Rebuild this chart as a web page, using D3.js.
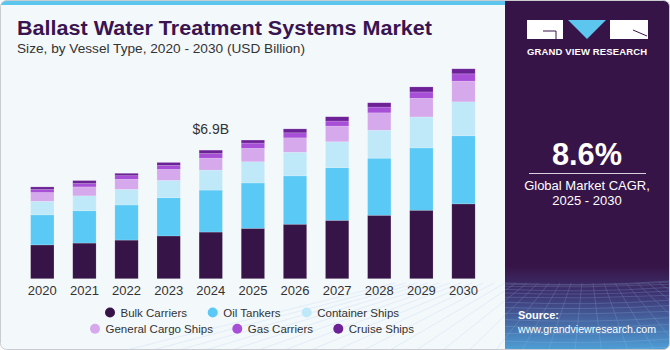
<!DOCTYPE html>
<html>
<head>
<meta charset="utf-8">
<script src="https://cdn.jsdelivr.net/npm/d3@7"></script>
<style>
  html, body { margin: 0; padding: 0; background: #ffffff; }
  svg { display: block; font-family: "Liberation Sans", Arial, sans-serif; }
</style>
</head>
<body>
<svg id="chart" width="670" height="350"></svg>
<script>
// ---- data ----
const years = ["2020","2021","2022","2023","2024","2025","2026","2027","2028","2029","2030"];
const seriesNames = ["Bulk Carriers","Oil Tankers","Container Ships","General Cargo Ships","Gas Carriers","Cruise Ships"];
const bulkCarriers      = [1.81, 1.91, 2.07, 2.29, 2.50, 2.70, 2.92, 3.13, 3.40, 3.67, 4.01];
const oilTankers        = [1.61, 1.73, 1.88, 2.05, 2.25, 2.43, 2.59, 2.82, 3.06, 3.34, 3.65];
const containerShips    = [0.73, 0.80, 0.84, 0.93, 1.07, 1.14, 1.27, 1.39, 1.50, 1.66, 1.82];
const generalCargoShips = [0.47, 0.48, 0.54, 0.59, 0.64, 0.72, 0.77, 0.84, 0.93, 1.00, 1.11];
const gasCarriers       = [0.16, 0.18, 0.19, 0.21, 0.25, 0.28, 0.27, 0.27, 0.31, 0.34, 0.39];
const cruiseShips       = [0.14, 0.16, 0.13, 0.16, 0.18, 0.16, 0.21, 0.23, 0.23, 0.27, 0.27];
const seriesColors = ["#371447","#5bc9f5","#bfe9f9","#d5a9ec","#a84fd7","#6c2196"];
const annotation = { year: "2024", text: "$6.9B" };
const cagrText = "8.6%";

const seriesValues = [bulkCarriers, oilTankers, containerShips, generalCargoShips, gasCarriers, cruiseShips];
const table = years.map((y, i) => {
  const row = { year: y };
  seriesNames.forEach((s, k) => row[s] = seriesValues[k][i]);
  return row;
});

const svg = d3.select("#chart");
const W = 670, H = 350;

// ---- card background ----
const defs = svg.append("defs");
const clip = defs.append("clipPath").attr("id", "cardClip");
clip.append("rect").attr("x", 0.5).attr("y", 0.5).attr("width", W - 1).attr("height", H - 1).attr("rx", 6);

const g0 = svg.append("g").attr("clip-path", "url(#cardClip)");
g0.append("rect").attr("x", 0).attr("y", 0).attr("width", W).attr("height", H).attr("fill", "#f3f8fb");
g0.append("rect").attr("x", 0).attr("y", 0).attr("width", 506).attr("height", 5).attr("fill", "#5cc6ee");

// right panel
const grad = defs.append("linearGradient").attr("id", "panelGrad").attr("x1", 0).attr("y1", 0).attr("x2", 0).attr("y2", 1);
grad.append("stop").attr("offset", "0%").attr("stop-color", "#371447");
grad.append("stop").attr("offset", "76%").attr("stop-color", "#371447");
grad.append("stop").attr("offset", "85%").attr("stop-color", "#3f3a78");
grad.append("stop").attr("offset", "100%").attr("stop-color", "#4f9fd6");
g0.append("rect").attr("x", 505).attr("y", 0).attr("width", W - 505).attr("height", H).attr("fill", "url(#panelGrad)");

// faint perspective grid in bottom of panel
const gridG = g0.append("g").attr("stroke", "#9fc4ec").attr("stroke-width", 0.6).attr("fill", "none").attr("opacity", 0.35);
for (let k = 0; k < 14; k++) {
  const yy = 283 + Math.pow(k / 13, 1.6) * 66;
  gridG.append("path").attr("d", `M505,${yy} Q587,${yy + 4 - (k % 3)} 670,${yy - 2}`);
}
for (let k = -10; k <= 20; k++) {
  const xTop = 505 + k * 11;
  const xBot = 587 + (xTop - 587) * 2.4;
  gridG.append("line").attr("x1", xTop).attr("y1", 283).attr("x2", xBot).attr("y2", 350);
}

// border
svg.append("rect").attr("x", 0.5).attr("y", 0.5).attr("width", W - 1).attr("height", H - 1).attr("rx", 6)
  .attr("fill", "none").attr("stroke", "#c9cdd1").attr("stroke-width", 1);

// ---- logo ----
const logo = svg.append("g");
logo.append("rect").attr("x", 527).attr("y", 20).attr("width", 36).attr("height", 19).attr("fill", "#ffffff");
logo.append("path").attr("d", "M543,31 L556,31 L556,39").attr("stroke", "#371447").attr("stroke-width", 1).attr("fill", "none");
logo.append("path").attr("d", "M568,20 L606,20 L587,39 Z").attr("fill", "#5cc6ee");
logo.append("rect").attr("x", 610).attr("y", 20).attr("width", 38).attr("height", 19).attr("fill", "#ffffff");
logo.append("path").attr("d", "M633,30 L647,36").attr("stroke", "#371447").attr("stroke-width", 1);
logo.append("text").attr("x", 587).attr("y", 54.5).attr("text-anchor", "middle")
  .attr("fill", "#ffffff").attr("font-size", 9.5).attr("font-weight", "bold")
  .attr("textLength", 120).attr("lengthAdjust", "spacing")
  .text("GRAND VIEW RESEARCH");

// CAGR
svg.append("text").attr("x", 587).attr("y", 165).attr("text-anchor", "middle")
  .attr("fill", "#ffffff").attr("font-size", 32).attr("font-weight", "bold")
  .attr("textLength", 70).attr("lengthAdjust", "spacingAndGlyphs").text(cagrText);
svg.append("line").attr("x1", 529).attr("x2", 646).attr("y1", 173.5).attr("y2", 173.5)
  .attr("stroke", "#d8cfe0").attr("stroke-width", 1);
svg.append("text").attr("x", 587).attr("y", 190).attr("text-anchor", "middle")
  .attr("fill", "#ffffff").attr("font-size", 13).text("Global Market CAGR,");
svg.append("text").attr("x", 587).attr("y", 205).attr("text-anchor", "middle")
  .attr("fill", "#ffffff").attr("font-size", 13).text("2025 - 2030");

svg.append("text").attr("x", 518).attr("y", 319).attr("fill", "#ffffff")
  .attr("font-size", 11).attr("font-weight", "bold").text("Source:");
svg.append("text").attr("x", 518).attr("y", 333).attr("fill", "#ffffff")
  .attr("font-size", 11).attr("textLength", 138).attr("lengthAdjust", "spacingAndGlyphs")
  .text("www.grandviewresearch.com");

// ---- titles ----
svg.append("text").attr("x", 17).attr("y", 35).attr("fill", "#3a1450")
  .attr("font-size", 20).attr("font-weight", "bold")
  .attr("textLength", 415).attr("lengthAdjust", "spacingAndGlyphs")
  .text("Ballast Water Treatment Systems Market");
svg.append("text").attr("x", 17).attr("y", 52.5).attr("fill", "#333333")
  .attr("font-size", 13).attr("textLength", 288).attr("lengthAdjust", "spacingAndGlyphs")
  .text("Size, by Vessel Type, 2020 - 2030 (USD Billion)");

// ---- scales ----
const x = d3.scaleBand().domain(years).range([21.25, 484.55]).paddingInner(0.446).paddingOuter(0.223);
const totals = table.map(r => d3.sum(seriesNames, s => r[s]));
const y = d3.scaleLinear().domain([0, 11.24]).range([278.7, 69]);

const stack = d3.stack().keys(seriesNames);
const stacked = stack(table);

const bars = svg.append("g");
bars.selectAll("g.series").data(stacked).join("g").attr("class", "series")
  .attr("fill", (d, i) => seriesColors[i])
  .selectAll("rect").data(d => d).join("rect")
  .attr("x", d => x(d.data.year))
  .attr("width", x.bandwidth())
  .attr("y", d => y(d[1]))
  .attr("height", d => y(d[0]) - y(d[1]))
  .attr("stroke", "#ffffff").attr("stroke-opacity", 0.25).attr("stroke-width", 0.6);

// x axis
const xAxis = svg.append("g").attr("transform", "translate(0,279)")
  .call(d3.axisBottom(x).tickSize(0).tickPadding(7));
xAxis.select(".domain").remove();
xAxis.selectAll("text").attr("font-size", 13).attr("fill", "#333333")
  .attr("font-family", "Liberation Sans, Arial, sans-serif");

// annotation
const ai = years.indexOf(annotation.year);
svg.append("text").attr("x", x(annotation.year) + x.bandwidth() / 2).attr("y", y(totals[ai]) - 16)
  .attr("text-anchor", "middle").attr("fill", "#333333").attr("font-size", 14).text(annotation.text);

// ---- legend ----
const legendPos = [
  { cx: 110, cy: 312.5 }, { cx: 212.7, cy: 312.5 }, { cx: 306.7, cy: 312.5 },
  { cx: 95, cy: 328.7 }, { cx: 237.3, cy: 328.7 }, { cx: 338.3, cy: 328.7 }
];
const leg = svg.append("g").selectAll("g").data(seriesNames).join("g")
  .attr("transform", (d, i) => `translate(${legendPos[i].cx},${legendPos[i].cy})`);
leg.append("circle").attr("r", 5).attr("fill", (d, i) => seriesColors[i]);
leg.append("text").attr("x", 10.5).attr("dy", "0.35em").attr("font-size", 11.5).attr("fill", "#333333").text(d => d);
</script>
</body>
</html>
